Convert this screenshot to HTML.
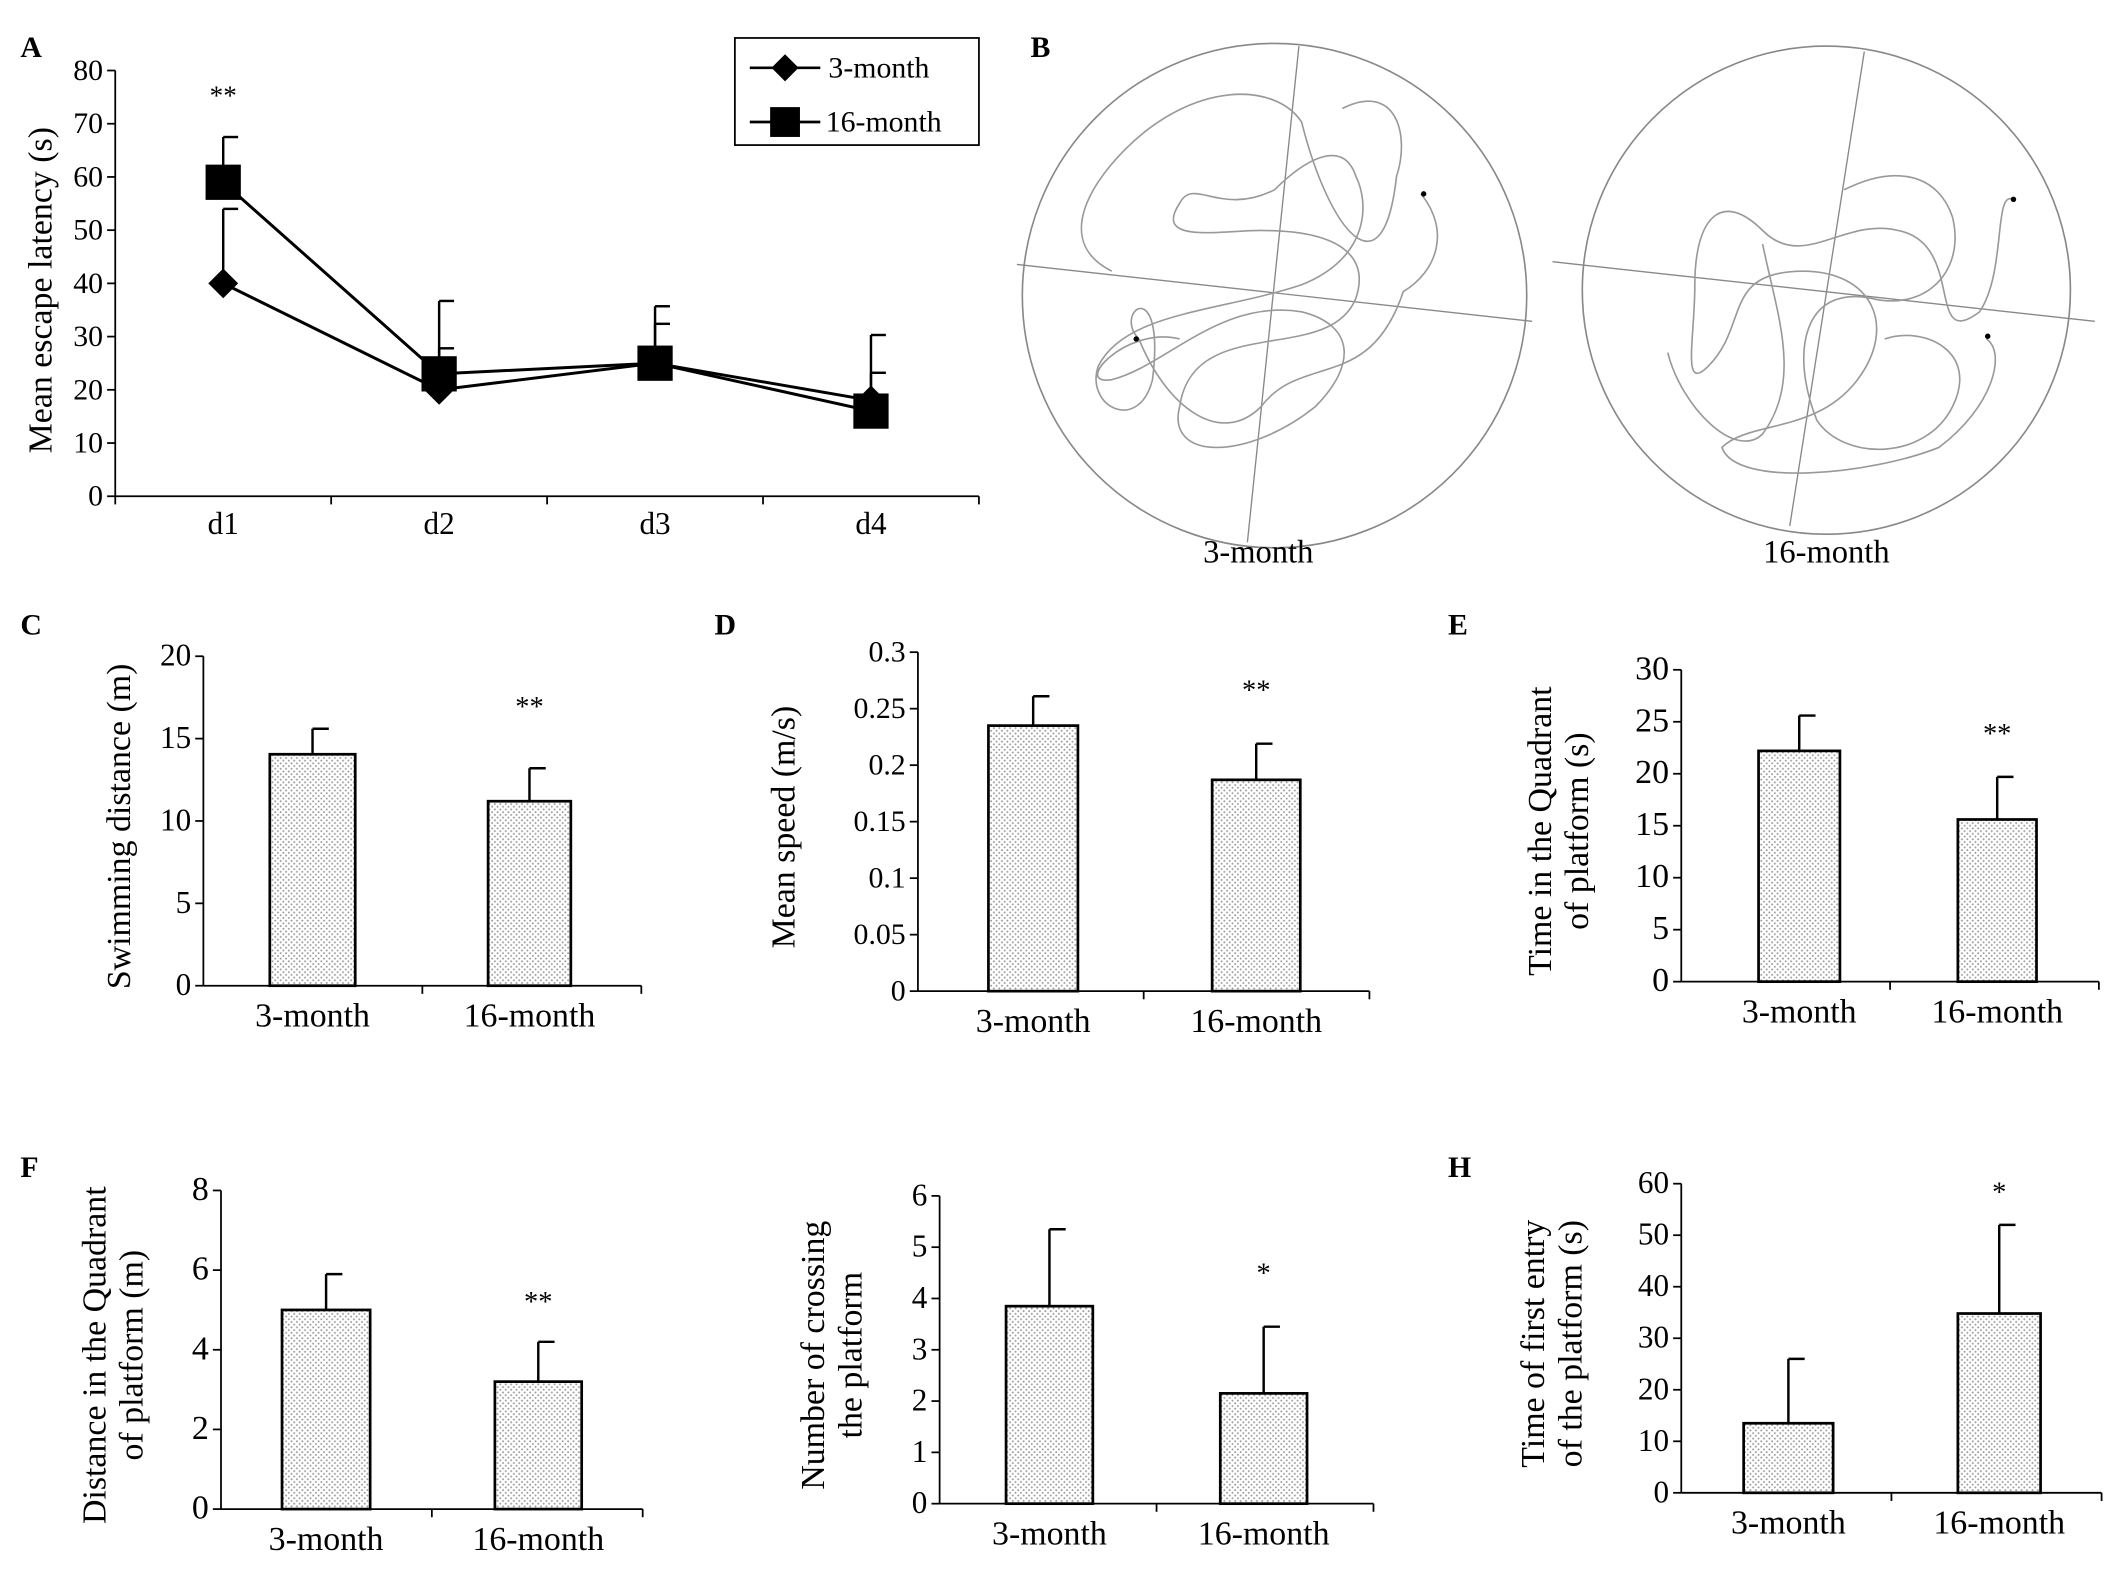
<!DOCTYPE html>
<html><head><meta charset="utf-8">
<style>
html,body{margin:0;padding:0;background:#fff;}
svg{display:block;font-family:"Liberation Serif",serif;}
</style></head>
<body>
<svg id="fig" width="2126" height="1580" viewBox="0 0 1568 1165.3" preserveAspectRatio="none" xmlns="http://www.w3.org/2000/svg">
<defs>
<pattern id="dots" width="4" height="4" patternUnits="userSpaceOnUse">
<rect width="4" height="4" fill="#fff"/><circle cx="1" cy="1" r="0.7" fill="#999"/><circle cx="3" cy="3" r="0.7" fill="#999"/>
</pattern>
</defs>
<g id="root"></g>
</svg>
<script>
// Panel A data
const daysA = ['d1','d2','d3','d4'];
const young = [40, 20, 25, 18];
const youngErr = [54, 27.8, 32.4, 30.3];
const old = [59, 23, 25, 16];
const oldErr = [67.5, 36.7, 35.7, 23.2];
const ticksA = [0,10,20,30,40,50,60,70,80];

// Bar panels data
const groups = ['3-month','16-month'];
const cVals = [14.05, 11.2];  const cErr = [15.6, 13.2];
const dVals = [0.235, 0.187]; const dErr = [0.261, 0.219];
const eVals = [22.2, 15.6];   const eErr = [25.6, 19.7];
const fVals = [5.0, 3.2];     const fErr = [5.9, 4.2];
const gVals = [3.85, 2.15];   const gErr = [5.35, 3.45];
const hVals = [13.5, 34.8];   const hErr = [26, 52];
const cTicks = ['0','5','10','15','20'];
const dTicks = ['0','0.05','0.1','0.15','0.2','0.25','0.3'];
const eTicks = ['0','5','10','15','20','25','30'];
const fTicks = ['0','2','4','6','8'];
const gTicks = ['0','1','2','3','4','5','6'];
const hTicks = ['0','10','20','30','40','50','60'];

const NS='http://www.w3.org/2000/svg';
const root=document.getElementById('root');
function el(tag,attrs,parent,text){
  const e=document.createElementNS(NS,tag);
  for(const k in attrs) e.setAttribute(k,attrs[k]);
  if(text!==undefined) e.textContent=text;
  (parent||root).appendChild(e); return e;
}
function line(x1,y1,x2,y2,p,w){return el('line',{x1,y1,x2,y2,stroke:'#000','stroke-width':w||1.3},p);}

[['A',15,42],['B',760,42],['C',15,468],['D',527,468],['E',1068,468],['F',15,868],['H',1068,868]].forEach(([t,x,y])=>{
  const e=el('text',{x,y,'font-size':22,'font-weight':'bold'},root,t);
  
  
});

// ----- Panel A -----
(function(){
  const g=el('g',{});
  
  
  const x0=85, xEnd=722, y0=366, yTop=52, vmax=80;
  const Y=v=>y0-(y0-yTop)*v/vmax;
  const step=(xEnd-x0)/daysA.length;
  const X=i=>x0+step*(i+0.5);
  line(x0,yTop,x0,y0,g); line(x0,y0,xEnd,y0,g);
  ticksA.forEach(t=>{line(x0-6,Y(t),x0,Y(t),g);
    const tx=el('text',{x:x0-9,y:Y(t)+7,'font-size':22,'text-anchor':'end'},g,String(t));
    });
  for(let i=0;i<=daysA.length;i++) line(x0+step*i,y0,x0+step*i,y0+6,g);
  daysA.forEach((d,i)=>{const t=el('text',{x:X(i),y:y0+28,'font-size':23,'text-anchor':'middle'},g,d);
    });
  const yt=el('text',{transform:`translate(38,${(y0+yTop)/2+5}) rotate(-90)`,'font-size':25,'text-anchor':'middle'},g,'Mean escape latency (s)');
  
  [[young,youngErr],[old,oldErr]].forEach(([v,e])=>v.forEach((val,i)=>{
    line(X(i),Y(val),X(i),Y(e[i]),g,1.8); line(X(i),Y(e[i]),X(i)+11,Y(e[i]),g,1.8);}));
  el('polyline',{points:young.map((v,i)=>X(i)+','+Y(v)).join(' '),fill:'none',stroke:'#000','stroke-width':2.2},g);
  el('polyline',{points:old.map((v,i)=>X(i)+','+Y(v)).join(' '),fill:'none',stroke:'#000','stroke-width':2.2},g);
  young.forEach((v,i)=>{const m=el('polygon',{points:`${X(i)},${Y(v)-11} ${X(i)+11},${Y(v)} ${X(i)},${Y(v)+11} ${X(i)-11},${Y(v)}`,fill:'#000'},g);
    });
  old.forEach((v,i)=>{const m=el('rect',{x:X(i)-13,y:Y(v)-13,width:26,height:26,fill:'#000'},g);
    });
  const s=el('text',{x:X(0),y:77,'font-size':20,'text-anchor':'middle'},g,'**');
  
  const lg=el('g',{},g);
  el('rect',{x:542,y:28,width:180,height:79,fill:'#fff',stroke:'#000','stroke-width':1.3},lg);
  line(553,50,605,50,lg,2);el('polygon',{points:'579,40 589,50 579,60 569,50',fill:'#000'},lg);
  el('text',{x:611,y:57,'font-size':22},lg,'3-month');
  line(553,90,605,90,lg,2);el('rect',{x:568,y:79,width:22,height:22,fill:'#000'},lg);
  el('text',{x:609,y:97,'font-size':22},lg,'16-month');
})();

// ----- Panel B -----
(function(){
  const g=el('g',{fill:'none',stroke:'#888','stroke-width':1.2});
  
  el('circle',{cx:940,cy:218,r:186},g);
  line(750,195,1130,237,g,1).setAttribute('stroke','#888');
  line(958,34,920,400,g,1).setAttribute('stroke','#888');
  el('path',{d:'M1048,143 C1070,170 1060,200 1035,215 C1010,290 960,260 930,300 C900,330 860,300 840,250 C820,230 860,200 850,280 C840,320 800,300 810,270 C830,230 900,230 960,210 C1010,190 1010,150 1000,130 C990,100 960,120 940,140 C900,160 880,130 870,150 C850,180 900,170 930,170 C990,170 1010,190 1000,220 C980,270 880,230 870,300 C860,340 920,340 970,300 C1000,270 1000,240 960,230 C900,220 860,270 820,280 C790,285 830,240 870,250 M990,80 C1030,60 1040,100 1030,130 C1020,220 980,170 960,90 C940,60 880,60 830,110 C800,140 780,180 820,200',stroke:'#999'},g);
  el('circle',{cx:1347,cy:214,r:180},g);
  line(1145,193,1545,237,g,1).setAttribute('stroke','#888');
  line(1375,38,1320,388,g,1).setAttribute('stroke','#888');
  el('path',{d:'M1485,147 C1470,140 1480,200 1460,230 C1420,260 1450,180 1400,170 C1360,160 1330,200 1300,170 C1270,140 1250,160 1250,210 C1250,250 1240,290 1260,270 C1290,240 1270,200 1330,200 C1380,200 1400,240 1370,280 C1340,320 1290,310 1270,330 C1280,360 1380,350 1430,330 C1470,300 1480,260 1465,250 M1360,140 C1400,120 1430,130 1440,160 C1450,200 1420,230 1380,220 C1330,210 1320,260 1340,310 C1360,340 1420,340 1440,300 C1460,260 1420,240 1390,250 M1300,180 C1310,230 1330,280 1300,320 C1280,340 1240,300 1230,260',stroke:'#999'},g);
  el('circle',{cx:1050,cy:143,r:2,fill:'#000',stroke:'none'},g);
  el('circle',{cx:838,cy:250,r:2,fill:'#000',stroke:'none'},g);
  el('circle',{cx:1485,cy:147,r:2,fill:'#000',stroke:'none'},g);
  el('circle',{cx:1466,cy:248,r:2,fill:'#000',stroke:'none'},g);
  [['3-month',928],['16-month',1347]].forEach(([t,x])=>{const e=el('text',{x,y:415,'font-size':24,'text-anchor':'middle',fill:'#000',stroke:'none'},g,t);
    });
})();

// ----- Bar panels -----
function barPanel(name,cfg){
  const g=el('g',{});
  
  const {x0,xEnd,y0,yTop,ticks,vals,errs,bars,stars,starY,title,titleX,fs}=cfg;
  const vmax=parseFloat(ticks[ticks.length-1]);
  const Y=v=>y0-(y0-yTop)*v/vmax;
  line(x0,yTop,x0,y0,g);line(x0,y0,xEnd,y0,g);
  const mid=(x0+xEnd)/2; line(mid,y0,mid,y0+6,g); line(xEnd,y0,xEnd,y0+6,g);
  ticks.forEach(t=>{const v=parseFloat(t);line(x0-6,Y(v),x0,Y(v),g);
    const e=el('text',{x:x0-9,y:Y(v)+7,'font-size':fs,'text-anchor':'end'},g,t);
    });
  vals.forEach((v,i)=>{
    const [bx,bw]=bars[i];const cx=bx+bw/2;
    line(cx,Y(v),cx,Y(errs[i]),g,1.8);line(cx,Y(errs[i]),cx+12,Y(errs[i]),g,1.8);
    const r=el('rect',{x:bx,y:Y(v),width:bw,height:y0-Y(v),fill:'url(#dots)',stroke:'#000','stroke-width':2},g);
    
    const t=el('text',{x:cx,y:y0+30,'font-size':25,'text-anchor':'middle'},g,groups[i]);
    
  });
  const sx=bars[1][0]+bars[1][1]/2;
  const s=el('text',{x:sx,y:starY,'font-size':21,'text-anchor':'middle'},g,stars);
  
  const tt=el('text',{transform:`translate(${titleX},${(y0+yTop)/2+4}) rotate(-90)`,'font-size':25,'text-anchor':'middle'},g);
  
  title.forEach((ln,k)=>el('tspan',{x:0,dy:k?'1.1em':(title.length>1?'-0.25em':'0')},tt,ln));
}
barPanel('panel-c-swimming-distance',{x0:150,xEnd:473,y0:727,yTop:484,ticks:cTicks,vals:cVals,errs:cErr,bars:[[199,63],[360,61]],stars:'**',starY:528,title:['Swimming distance (m)'],titleX:96,fs:23});
barPanel('panel-d-mean-speed',{x0:677,xEnd:1010,y0:731,yTop:481,ticks:dTicks,vals:dVals,errs:dErr,bars:[[729,66],[894,65]],stars:'**',starY:516,title:['Mean speed (m/s)'],titleX:586,fs:22});
barPanel('panel-e-time-in-quadrant',{x0:1240,xEnd:1548,y0:724,yTop:494,ticks:eTicks,vals:eVals,errs:eErr,bars:[[1297,60],[1444,58]],stars:'**',starY:548,title:['Time in the Quadrant','of platform (s)'],titleX:1150,fs:25});
barPanel('panel-f-distance-in-quadrant',{x0:163,xEnd:474,y0:1113,yTop:878,ticks:fTicks,vals:fVals,errs:fErr,bars:[[208,65],[365,64]],stars:'**',starY:967,title:['Distance in the Quadrant','of platform  (m)'],titleX:84,fs:25});
barPanel('panel-g-platform-crossings',{x0:693,xEnd:1013,y0:1109,yTop:882,ticks:gTicks,vals:gVals,errs:gErr,bars:[[742,64],[900,64]],stars:'*',starY:946,title:['Number of crossing','the platform'],titleX:614,fs:23});
barPanel('panel-h-first-entry-time',{x0:1240,xEnd:1550,y0:1101,yTop:873,ticks:hTicks,vals:hVals,errs:hErr,bars:[[1286,66],[1444,61]],stars:'*',starY:886,title:['Time of first entry','of the platform (s)'],titleX:1145,fs:23});
</script>
</body></html>
